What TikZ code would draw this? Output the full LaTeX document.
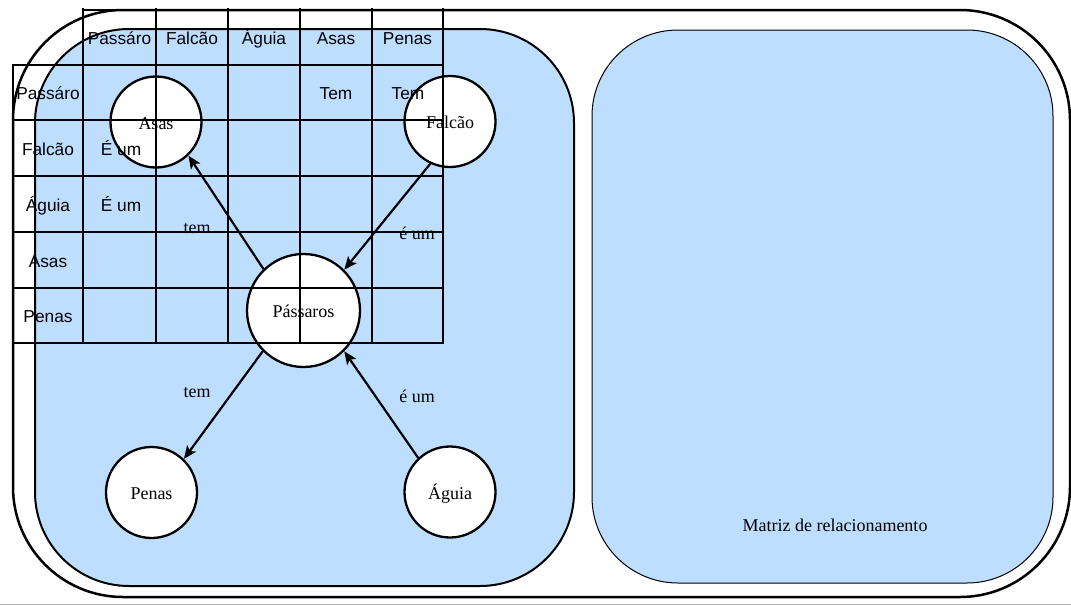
\documentclass[tikz,border=0pt]{standalone}
\usepackage{fontspec}
\setmainfont{Liberation Serif}
\newfontfamily\arialfont{Liberation Sans}
\usetikzlibrary{arrows.meta}
\definecolor{paneblue}{RGB}{190,222,255}

\begin{document}
\begin{tikzpicture}[x=1pt,y=-1pt,
  concept/.style={circle,draw,line width=2.3pt,fill=white,minimum size=91pt,inner sep=0pt,
    font=\fontsize{18}{20}\selectfont,text height=14pt,text depth=0pt},
  rel/.style={line width=2.2pt,-{Stealth[length=13pt,width=11pt,inset=3pt]}},
  lbl/.style={anchor=base,inner sep=0pt,font=\fontsize{18}{20}\selectfont},
  cell/.style={anchor=base,inner sep=0pt,font=\arialfont\fontsize{17.3}{20}\selectfont},
  tableline/.style={line width=2.3pt,line cap=rect}
]
\useasboundingbox (0,0) rectangle (1071,605);

% frame and the two panes
\draw[line width=2.5pt,rounded corners=110pt] (13,10) rectangle (1070,597);
\draw[line width=2pt,fill=paneblue,rounded corners=94pt] (35,29) rectangle (574,586);
\draw[line width=1pt,fill=paneblue,rounded corners=86pt] (592,30) rectangle (1053,583);
\draw[black!30,line width=1pt] (0,604.5) -- (1071,604.5);

% concept graph
\node[concept] (asas) at (156,122) {Asas};
\node[concept] (falcao) at (450,121.5) {Falcão};
\node[concept,minimum size=113pt] (passaros) at (303.5,310.5) {Pássaros};
\node[concept] (penas) at (151.5,492.5) {Penas};
\node[concept] (aguia) at (450,492) {Águia};

\draw[rel] (passaros.134) -- (asas.-46);
\draw[rel] (falcao.245) -- (passaros.45);
\draw[rel] (passaros.225) -- (penas.46);
\draw[rel] (aguia.133) -- (passaros.-45);

\node[lbl] (temA) at (197,233) {tem};
\node[lbl] (eumA) at (417,239) {é um};
\node[lbl] (temB) at (197,397) {tem};
\node[lbl] (eumB) at (417,402) {é um};

\node[lbl] (caption) at (835,531) {Matriz de relacionamento};

% relationship matrix
\foreach \y in {65,120,176,232,288,343} \draw[tableline] (13,\y) -- (443,\y);
\foreach \x in {83,156,228,300,372,443} \draw[tableline] (\x,9) -- (\x,343);
\draw[tableline] (13,65) -- (13,343);
\draw[tableline] (83,10) -- (443,10);

\node[cell] (h1) at (119.5,44.5) {Passáro};
\node[cell] (h2) at (192,44.5) {Falcão};
\node[cell] (h3) at (264,44.5) {Águia};
\node[cell] (h4) at (336,44.5) {Asas};
\node[cell] (h5) at (407.5,44.5) {Penas};

\node[cell] (r1) at (48,99.5) {Passáro};
\node[cell] (r2) at (48,155.5) {Falcão};
\node[cell] (r3) at (48,211) {Águia};
\node[cell] (r4) at (48,267) {Asas};
\node[cell] (r5) at (48,322.5) {Penas};

\node[cell] (c14) at (336,99.5) {Tem};
\node[cell] (c15) at (408,99.5) {Tem};
\node[cell] (c21) at (121,155.5) {É um};
\node[cell] (c31) at (121,211) {É um};
\end{tikzpicture}
\end{document}
